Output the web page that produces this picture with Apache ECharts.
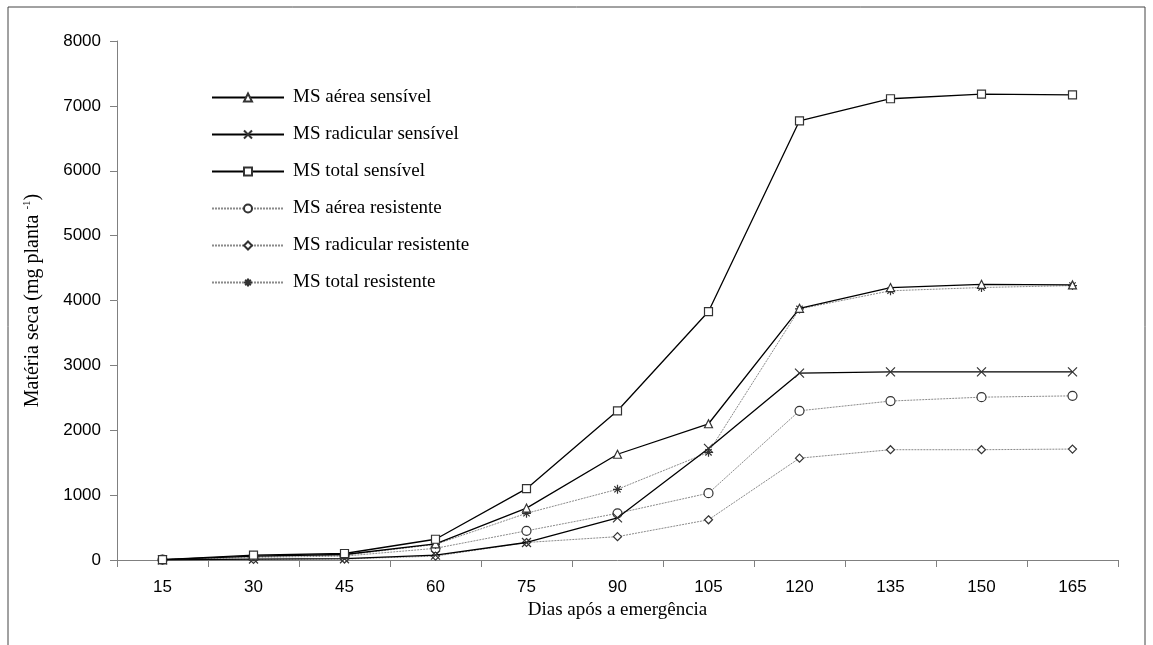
<!DOCTYPE html>
<html>
<head>
<meta charset="utf-8">
<script src="https://cdn.jsdelivr.net/npm/echarts@6/dist/echarts.min.js"></script>
<style>html,body{margin:0;padding:0;background:#fff}#c{width:1153px;height:645px}</style>
</head>
<body>
<div id="c"></div>
<script>
const days = ['15','30','45','60','75','90','105','120','135','150','165'];
const aereaSensivel = [5, 60, 85, 250, 800, 1630, 2100, 3880, 4200, 4250, 4240];
const radicularSensivel = [2, 15, 20, 75, 270, 650, 1720, 2880, 2900, 2900, 2900];
const totalSensivel = [7, 75, 100, 320, 1100, 2300, 3830, 6770, 7110, 7180, 7170];
const aereaResistente = [5, 40, 60, 180, 450, 720, 1030, 2300, 2450, 2510, 2530];
const radicularResistente = [2, 10, 15, 60, 270, 360, 620, 1570, 1700, 1700, 1710];
const totalResistente = [7, 50, 75, 240, 720, 1090, 1660, 3870, 4150, 4200, 4230];
const yTicks = [0, 1000, 2000, 3000, 4000, 5000, 6000, 7000, 8000];

const names = ['MS aérea sensível','MS radicular sensível','MS total sensível','MS aérea resistente','MS radicular resistente','MS total resistente'];
const dataSets = [aereaSensivel, radicularSensivel, totalSensivel, aereaResistente, radicularResistente, totalResistente];
const symbols = [
  'triangle',
  'path://M0,0L10,10M10,0L0,10',
  'rect',
  'circle',
  'diamond',
  'path://M5,0L5,10M0,5L10,5M1.5,1.5L8.5,8.5M8.5,1.5L1.5,8.5'
];
const sizes = [8, 9, 8, 9, 8, 9];

const series = dataSets.map((d, i) => {
  const sens = i < 3;
  return {
    name: names[i],
    type: 'line',
    data: d,
    smooth: false,
    symbol: symbols[i],
    symbolSize: sizes[i],
    color: sens ? '#000' : '#808080',
    lineStyle: sens ? {color: '#000', width: 1.3, type: 'solid'} : {color: '#8a8a8a', width: 1, type: [2, 1]},
    itemStyle: {color: '#fff', borderColor: '#333', borderWidth: 1.2},
    emphasis: {disabled: true},
    z: sens ? 3 : 2
  };
});

const chart = echarts.init(document.getElementById('c'));
chart.setOption({
  animation: false,
  backgroundColor: '#fff',
  graphic: [{
    type: 'rect', shape: {x: 8, y: 7, width: 1137, height: 700},
    style: {fill: 'none', stroke: '#444', lineWidth: 1}, silent: true, z: -1
  }],
  grid: {left: 117, right: 35, top: 41, bottom: 85},
  legend: {
    orient: 'vertical', left: 206, top: 83,
    itemWidth: 72, itemHeight: 10, itemGap: 18,
    textStyle: {fontFamily: 'Liberation Serif', fontSize: 19, color: '#000', padding: [0,0,0,4]},
    data: names
  },
  xAxis: {
    type: 'category', data: days, boundaryGap: true,
    name: 'Dias após a emergência', nameLocation: 'middle', nameGap: 37,
    nameTextStyle: {fontFamily: 'Liberation Serif', fontSize: 19, color: '#000'},
    axisLine: {lineStyle: {color: '#808080', width: 1}},
    axisTick: {show: true, length: 7, lineStyle: {color: '#808080'}},
    axisLabel: {fontFamily: 'Liberation Sans', fontSize: 17, color: '#000', margin: 19},
    splitLine: {show: false}
  },
  yAxis: {
    type: 'value', min: 0, max: 8000, interval: 1000,
    name: 'Matéria seca (mg planta {sup|-1})', nameLocation: 'middle', nameGap: 74,
    nameTextStyle: {fontFamily: 'Liberation Serif', fontSize: 20, color: '#000',
      rich: {sup: {fontFamily: 'Liberation Serif', fontSize: 11, verticalAlign: 'top', padding: [0,0,10,0], color: '#000'}}},
    axisLine: {show: true, lineStyle: {color: '#808080', width: 1}},
    axisTick: {show: true, length: 7, lineStyle: {color: '#808080'}},
    axisLabel: {fontFamily: 'Liberation Sans', fontSize: 17, color: '#000', margin: 16,
      formatter: v => yTicks.includes(v) ? String(v) : ''},
    splitLine: {show: false}
  },
  series: series
});
</script>
</body>
</html>
